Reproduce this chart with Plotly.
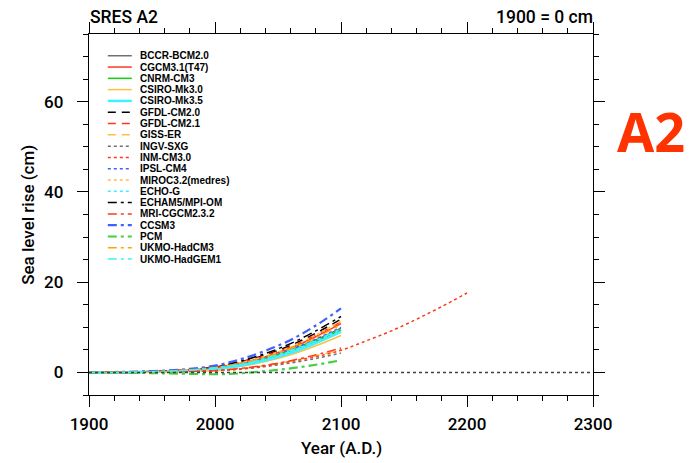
import plotly.graph_objects as go

years = [1900, 1920, 1940, 1960, 1980, 2000, 2020, 2040, 2060, 2080, 2100]
inm_years = [1900, 1920, 1940, 1960, 1980, 2000, 2020, 2040, 2060, 2080, 2100,
             2120, 2140, 2160, 2180, 2200]

models = ["BCCR-BCM2.0", "CGCM3.1(T47)", "CNRM-CM3", "CSIRO-Mk3.0", "CSIRO-Mk3.5",
          "GFDL-CM2.0", "GFDL-CM2.1", "GISS-ER", "INGV-SXG", "INM-CM3.0",
          "IPSL-CM4", "MIROC3.2(medres)", "ECHO-G", "ECHAM5/MPI-OM",
          "MRI-CGCM2.3.2", "CCSM3", "PCM", "UKMO-HadCM3", "UKMO-HadGEM1"]

bccr = [0, 0.0, 0.1, 0.2, 0.5, 0.9, 1.8, 3.2, 5.0, 7.2, 9.8]
cgcm = [0, 0.05, 0.1, 0.3, 0.6, 1.1, 2.1, 3.5, 5.4, 7.9, 10.8]
cnrm = [0, -0.05, 0.0, 0.2, 0.5, 0.9, 1.7, 3.0, 4.8, 6.9, 9.4]
csiro30 = [0, 0.0, 0.1, 0.2, 0.4, 0.7, 1.3, 2.4, 3.9, 5.9, 8.2]
csiro35 = [0, 0.0, 0.1, 0.2, 0.4, 0.8, 1.5, 2.7, 4.3, 6.5, 9.0]
gfdl20 = [0, 0.05, 0.1, 0.3, 0.6, 1.2, 2.3, 3.9, 6.0, 8.7, 11.8]
gfdl21 = [0, 0.05, 0.1, 0.3, 0.6, 1.1, 2.2, 3.7, 5.7, 8.3, 11.2]
giss = [0, 0.0, 0.0, 0.1, 0.2, 0.4, 0.8, 1.5, 2.5, 3.7, 5.1]
ingv = [0, 0.0, 0.0, 0.1, 0.2, 0.4, 0.7, 1.3, 2.1, 3.1, 4.3]
inm = [0, 0.0, 0.0, 0.1, 0.2, 0.4, 0.8, 1.5, 2.4, 3.5, 4.9, 7.0, 9.2, 11.8, 14.6, 17.6]
ipsl = [0, 0.0, 0.1, 0.2, 0.5, 1.0, 1.9, 3.3, 5.1, 7.4, 10.0]
miroc = [0, 0.05, 0.1, 0.3, 0.6, 1.1, 2.1, 3.6, 5.6, 8.3, 11.4]
echog = [0, 0.0, 0.1, 0.2, 0.5, 0.9, 1.7, 3.0, 4.7, 6.9, 9.4]
echam = [0, 0.05, 0.15, 0.3, 0.7, 1.3, 2.5, 4.2, 6.4, 9.2, 12.4]
mri = [0, 0.0, 0.0, 0.1, 0.2, 0.4, 0.9, 1.6, 2.6, 3.9, 5.4]
ccsm = [0, 0.1, 0.2, 0.4, 0.8, 1.5, 2.9, 4.8, 7.2, 10.4, 14.2]
pcm = [0, -0.05, -0.1, -0.2, -0.3, -0.4, -0.2, 0.3, 0.9, 1.7, 2.7]
hadcm3 = [0, 0.05, 0.1, 0.3, 0.6, 1.1, 2.0, 3.4, 5.3, 7.7, 10.6]
hadgem = [0, 0.0, 0.1, 0.2, 0.5, 1.0, 1.8, 3.1, 4.9, 7.1, 9.7]

series = [bccr, cgcm, cnrm, csiro30, csiro35, gfdl20, gfdl21, giss, ingv, inm,
          ipsl, miroc, echog, echam, mri, ccsm, pcm, hadcm3, hadgem]

zero_years = [1900, 2300]
zero_vals = [0, 0]

x_ticks = [1900, 2000, 2100, 2200, 2300]
y_ticks = [0, 20, 40, 60]
x_range = [1900, 2300]
y_range = [-5, 75]

# styles
DOT = "3px,3px"
DASH = "8px,6px"
DASHDOT = "9px,4px,3px,4px"
colors = ["#707070", "#FF3A1A", "#10D010", "#FFBF40", "#40F0FF",
          "#000000", "#FF3A1A", "#FFBF40", "#707070", "#FF3A1A",
          "#4060FF", "#FFBF40", "#40F0FF", "#000000",
          "#FF3A1A", "#4060FF", "#40D040", "#FFA500", "#40F0FF"]
dashes = ["solid", "solid", "solid", "solid", "solid",
          DASH, DASH, DASH, DOT, DOT, DOT, DOT, DOT,
          DASHDOT, DASHDOT, DASHDOT, DASHDOT, DASHDOT, DASHDOT]
widths = [1.5, 1.5, 1.5, 1.5, 2.5,
          1.5, 1.5, 1.5, 1.5, 1.5, 1.5, 1.5, 1.5,
          1.5, 1.5, 2.2, 2.2, 1.5, 1.5]

FONT = "Liberation Sans"
MAINFONT = "Roboto"

fig = go.Figure()

# zero reference line drawn on the secondary (top/right) axes, which share ranges
fig.add_trace(go.Scatter(x=zero_years, y=zero_vals, mode="lines", xaxis="x2", yaxis="y2",
                         line=dict(color="#404040", width=1.5, dash=DOT),
                         showlegend=False, hoverinfo="skip"))

for name, vals, c, d, w in zip(models, series, colors, dashes, widths):
    xs = inm_years if name == "INM-CM3.0" else years
    fig.add_trace(go.Scatter(x=xs, y=vals, mode="lines", name=name,
                             line=dict(color=c, width=w, dash=d, shape="spline"),
                             showlegend=False))

# manual legend (paper coordinates)
L, R, T, B = 88.7, 592.7, 34.3, 394.7
def px(x):
    return (x - L) / (R - L)
def py(y):
    return (B - y) / (B - T)

shapes = []
annotations = []
for i, (name, c, d, w) in enumerate(zip(models, colors, dashes, widths)):
    yy = 56 + i * 11.28
    shapes.append(dict(type="line", xref="paper", yref="paper",
                       x0=px(107.5), x1=px(131.5), y0=py(yy), y1=py(yy),
                       line=dict(color=c, width=w, dash=d)))
    annotations.append(dict(text=name, xref="paper", yref="paper",
                            x=px(138), y=py(yy), xanchor="left", yanchor="middle",
                            showarrow=False,
                            font=dict(family=FONT, size=10, color="black", weight="bold")))

annotations += [
    dict(text="SRES A2", xref="paper", yref="paper", x=px(88), y=py(17),
         xanchor="left", yanchor="middle", showarrow=False,
         font=dict(family=MAINFONT, size=17.5, color="black", weight=500)),
    dict(text="1900 = 0 cm", xref="paper", yref="paper", x=px(595), y=py(17),
         xanchor="right", yanchor="middle", showarrow=False,
         font=dict(family=MAINFONT, size=17.5, color="black", weight=500)),
    dict(text="Year (A.D.)", xref="paper", yref="paper", x=px(341), y=py(448),
         xanchor="center", yanchor="middle", showarrow=False,
         font=dict(family=MAINFONT, size=17, color="black", weight=500)),
    dict(text="Sea level rise (cm)", xref="paper", yref="paper", x=px(27), y=py(214.5),
         xanchor="center", yanchor="middle", showarrow=False, textangle=-90,
         font=dict(family=MAINFONT, size=17, color="black", weight=500)),
    dict(text="A2", xref="paper", yref="paper", x=px(651), y=py(131),
         xanchor="center", yanchor="middle", showarrow=False,
         font=dict(family="Open Sans", size=54, color="#FF3300", weight="bold")),
]

axis_common = dict(showline=True, linecolor="black", linewidth=1.3, mirror=False,
                   ticks="outside", ticklen=11, tickwidth=1.3, tickcolor="black",
                   showgrid=False, zeroline=False,
                   tickfont=dict(family=MAINFONT, size=17, color="black", weight=500))
xminor = dict(dtick=20, tick0=1900, ticks="outside", ticklen=5,
              tickwidth=1.3, tickcolor="black", showgrid=False)
yminor = dict(dtick=5, tick0=0, ticks="outside", ticklen=5,
              tickwidth=1.3, tickcolor="black", showgrid=False)

fig.update_layout(
    width=690, height=463,
    margin=dict(l=89, r=97, t=34, b=68, pad=0),
    paper_bgcolor="white", plot_bgcolor="white",
    showlegend=False,
    shapes=shapes, annotations=annotations,
    xaxis=dict(range=x_range, tickvals=x_ticks, ticklabelstandoff=2,
               minor=xminor, side="bottom", anchor="y", **axis_common),
    yaxis=dict(range=y_range, tickvals=y_ticks, ticklabelstandoff=10,
               minor=yminor, side="left", anchor="x", **axis_common),
    xaxis2=dict(range=x_range, tickvals=x_ticks, showticklabels=False,
                minor=xminor, side="top", overlaying="x", anchor="y2", **axis_common),
    yaxis2=dict(range=y_range, tickvals=y_ticks, showticklabels=False,
                minor=yminor, side="right", overlaying="y", anchor="x2", **axis_common),
)

fig.write_html("out.html")
